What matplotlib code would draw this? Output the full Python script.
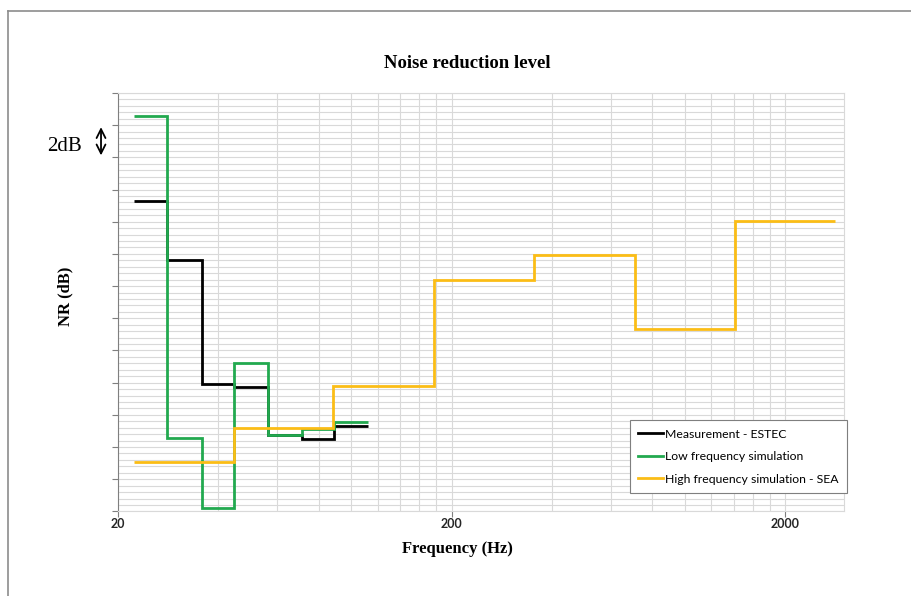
import matplotlib
matplotlib.use('Agg')
import matplotlib.pyplot as plt
from matplotlib.ticker import FixedLocator, NullFormatter, MultipleLocator
import numpy as np

# Bandas de frequência (Hz)
bandas_terco = [25, 31.5, 40, 50, 63, 80, 100]
bandas_oitava = [31.5, 63, 125, 250, 500, 1000, 2000]

# NR (dB)
nr_medicao = [19.3, 15.6, 7.9, 7.75, 4.75, 4.5, 5.3]
nr_baixa_freq = [24.6, 4.55, 0.2, 9.2, 4.75, 5.1, 5.55]
nr_sea = [3.05, 5.2, 7.8, 14.35, 15.95, 11.35, 18.05]

rotulos_x = ['20', '200', '2000']


def limites_banda(centros, fracao):
    c = np.array(centros, dtype=float)
    return np.append(c * 2 ** (-1 / (2 * fracao)), c[-1] * 2 ** (1 / (2 * fracao)))


serif = ['Liberation Serif', 'DejaVu Serif']
sans = ['Lato', 'DejaVu Sans']

fig = plt.figure(figsize=(9.11, 5.96), dpi=100)
ax = fig.add_axes([118 / 911, 1 - 511.4 / 596, 726 / 911, 418.4 / 596])

# borda da área do gráfico (cortada no original)
fig.add_artist(plt.Line2D([8 / 911, 1.0], [1 - 11 / 596, 1 - 11 / 596], color='#8c8c8c', lw=1.2))
fig.add_artist(plt.Line2D([8 / 911, 8 / 911], [0.0, 1 - 11 / 596], color='#8c8c8c', lw=1.2))

ax.stairs(nr_medicao, limites_banda(bandas_terco, 3), baseline=None, color='black', lw=2.0,
          label='Measurement - ESTEC', zorder=3)
ax.stairs(nr_baixa_freq, limites_banda(bandas_terco, 3), baseline=None, color='#22a94f', lw=2.0,
          label='Low frequency simulation', zorder=4)
ax.stairs(nr_sea, limites_banda(bandas_oitava, 1), baseline=None, color='#fbbd16', lw=2.0,
          label='High frequency simulation - SEA', zorder=5)

ax.set_xscale('log')
ax.set_xlim(20, 3000)
ax.set_ylim(0, 26)

ax.xaxis.set_major_locator(FixedLocator([20, 200, 2000]))
ax.set_xticklabels(rotulos_x, fontfamily=sans, fontweight='bold', fontsize=9, color='#262626')
menores = [20 * k * 10 ** n for n in range(3) for k in range(1, 10) if 20 * k * 10 ** n <= 3000]
ax.xaxis.set_minor_locator(FixedLocator(menores))
ax.xaxis.set_minor_formatter(NullFormatter())

ax.yaxis.set_major_locator(MultipleLocator(2))
ax.yaxis.set_minor_locator(MultipleLocator(0.4))
ax.set_yticklabels([])

ax.tick_params(axis='y', which='major', direction='out', length=4, color='#7f7f7f')
ax.tick_params(axis='x', which='major', direction='out', length=4, color='#7f7f7f', pad=1)
ax.tick_params(which='minor', length=0)

ax.grid(which='both', color='#d9d9d9', lw=0.8)
ax.set_axisbelow(True)
for s in ['top', 'right', 'bottom']:
    ax.spines[s].set_color('#d9d9d9')
    ax.spines[s].set_linewidth(0.8)
ax.spines['left'].set_color('#7f7f7f')

# títulos na área do gráfico
fig.text(467 / 911, 1 - 64 / 596, 'Noise reduction level', ha='center', va='center',
         fontfamily=serif, fontweight='bold', fontsize=13.5)
fig.text(457 / 911, 1 - 549 / 596, 'Frequency (Hz)', ha='center', va='center',
         fontfamily=serif, fontweight='bold', fontsize=12)
fig.text(65 / 911, 1 - 296 / 596, 'NR (dB)', ha='center', va='center', rotation=90,
         fontfamily=serif, fontweight='bold', fontsize=12)

# indicação da escala de 2 dB
ax.annotate('', xy=(-0.0234, 24.05), xytext=(-0.0234, 21.95),
            xycoords=('axes fraction', 'data'), textcoords=('axes fraction', 'data'),
            arrowprops=dict(arrowstyle='<->', color='black', lw=1.3, mutation_scale=16),
            annotation_clip=False)
ax.text(-0.05, 22.7, '2dB', transform=ax.get_yaxis_transform(), ha='right', va='center',
        fontfamily=serif, fontsize=15)

leg = ax.legend(loc='upper left', bbox_to_anchor=(0.705, 0.2185), prop={'family': sans, 'size': 8.8},
                frameon=True, fancybox=False, edgecolor='#7f7f7f', framealpha=1, borderaxespad=0,
                handlelength=2.0, handletextpad=0.2, labelspacing=0.95, borderpad=0.7)
leg.get_frame().set_linewidth(0.8)

fig.savefig('out.png', dpi=100)
